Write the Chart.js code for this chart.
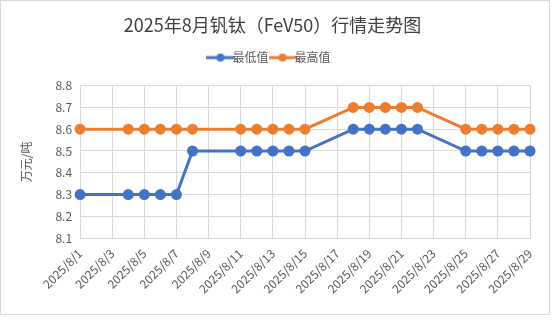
<!DOCTYPE html>
<html>
<head>
<meta charset="utf-8">
<script src="https://cdn.jsdelivr.net/npm/chart.js@4.4.1/dist/chart.umd.min.js"></script>
<style>
  html, body { margin: 0; padding: 0; background: #fff; }
  #box {
    position: absolute; left: 0; top: 0;
    width: 548px; height: 313px;
    border: 1px solid #d9d9d9;
  }
</style>
</head>
<body>
<div id="box"><canvas id="priceChart" width="548" height="313"></canvas></div>
<script>
const FONT = "'Noto Sans CJK SC', 'Noto Sans', sans-serif";

// trading days only; weekends are null and bridged by spanGaps
const dates = [];
for (let d = 1; d <= 29; d++) dates.push("2025/8/" + d);

const lowPrices = [
  8.3, null, null, 8.3, 8.3, 8.3, 8.3, 8.5, null, null,
  8.5, 8.5, 8.5, 8.5, 8.5, null, null, 8.6, 8.6, 8.6,
  8.6, 8.6, null, null, 8.5, 8.5, 8.5, 8.5, 8.5
];
const highPrices = [
  8.6, null, null, 8.6, 8.6, 8.6, 8.6, 8.6, null, null,
  8.6, 8.6, 8.6, 8.6, 8.6, null, null, 8.7, 8.7, 8.7,
  8.7, 8.7, null, null, 8.6, 8.6, 8.6, 8.6, 8.6
];
const yTicks = [8.1, 8.2, 8.3, 8.4, 8.5, 8.6, 8.7, 8.8];

const BLUE = "#4472C4";
const ORANGE = "#ED7D31";

// legend marker: short line with a dot in the middle
function legendMarker(color) {
  const c = document.createElement("canvas");
  c.width = 28;
  c.height = 10;
  const g = c.getContext("2d");
  g.strokeStyle = color;
  g.lineWidth = 3;
  g.beginPath();
  g.moveTo(0, 5);
  g.lineTo(28, 5);
  g.stroke();
  g.fillStyle = color;
  g.beginPath();
  g.arc(14, 5, 4, 0, Math.PI * 2);
  g.fill();
  return c;
}

// extra room under the legend
const legendGap = {
  id: "legendGap",
  beforeInit(chart) {
    const fit = chart.legend.fit;
    chart.legend.fit = function () {
      fit.bind(chart.legend)();
      this.height += 12;
    };
  },
};

const ctx = document.getElementById("priceChart").getContext("2d");
new Chart(ctx, {
  type: "line",
  data: {
    labels: dates,
    datasets: [
      {
        label: "最低值",
        data: lowPrices,
        borderColor: BLUE,
        backgroundColor: BLUE,
        borderWidth: 3,
        pointRadius: 4,
        pointHoverRadius: 4,
        spanGaps: true,
        tension: 0,
      },
      {
        label: "最高值",
        data: highPrices,
        borderColor: ORANGE,
        backgroundColor: ORANGE,
        borderWidth: 3,
        pointRadius: 4,
        pointHoverRadius: 4,
        spanGaps: true,
        tension: 0,
      },
    ],
  },
  plugins: [legendGap],
  options: {
    responsive: false,
    animation: false,
    layout: { padding: { left: 14, right: 19, top: 9, bottom: 10 } },
    plugins: {
      title: {
        display: true,
        text: "2025年8月钒钛（FeV50）行情走势图",
        color: "#404040",
        font: { family: FONT, size: 18, weight: "normal" },
        padding: { top: 4, bottom: 8 },
      },
      legend: {
        position: "top",
        labels: {
          color: "#595959",
          font: { family: FONT, size: 12 },
          usePointStyle: true,
          boxWidth: 28,
          boxHeight: 10,
          padding: 8,
          generateLabels(chart) {
            return chart.data.datasets.map((ds, i) => ({
              text: ds.label,
              fontColor: "#595959",
              pointStyle: legendMarker(ds.borderColor),
              datasetIndex: i,
              hidden: false,
              lineWidth: 0,
            }));
          },
        },
      },
      tooltip: { enabled: false },
    },
    scales: {
      x: {
        grid: {
          color: (c) => (c.index % 2 === 0 ? "#d9d9d9" : "transparent"),
          drawTicks: false,
        },
        border: { color: "#d9d9d9" },
        ticks: {
          autoSkip: false,
          maxRotation: 45,
          minRotation: 45,
          padding: 8,
          color: "#595959",
          font: { family: FONT, size: 12 },
          callback: (v, i) => (i % 2 === 0 ? dates[i] : ""),
        },
      },
      y: {
        min: yTicks[0],
        max: yTicks[yTicks.length - 1],
        afterBuildTicks: (axis) => {
          axis.ticks = yTicks.map((v) => ({ value: v }));
        },
        grid: { color: "#d9d9d9", drawTicks: false },
        border: { display: false },
        ticks: {
          padding: 8,
          color: "#595959",
          font: { family: FONT, size: 12 },
          callback: (v) => Number(v).toFixed(1),
        },
        title: {
          display: true,
          text: "万元/吨",
          color: "#595959",
          font: { family: FONT, size: 12 },
          padding: { bottom: 14 },
        },
      },
    },
  },
});
</script>
</body>
</html>
